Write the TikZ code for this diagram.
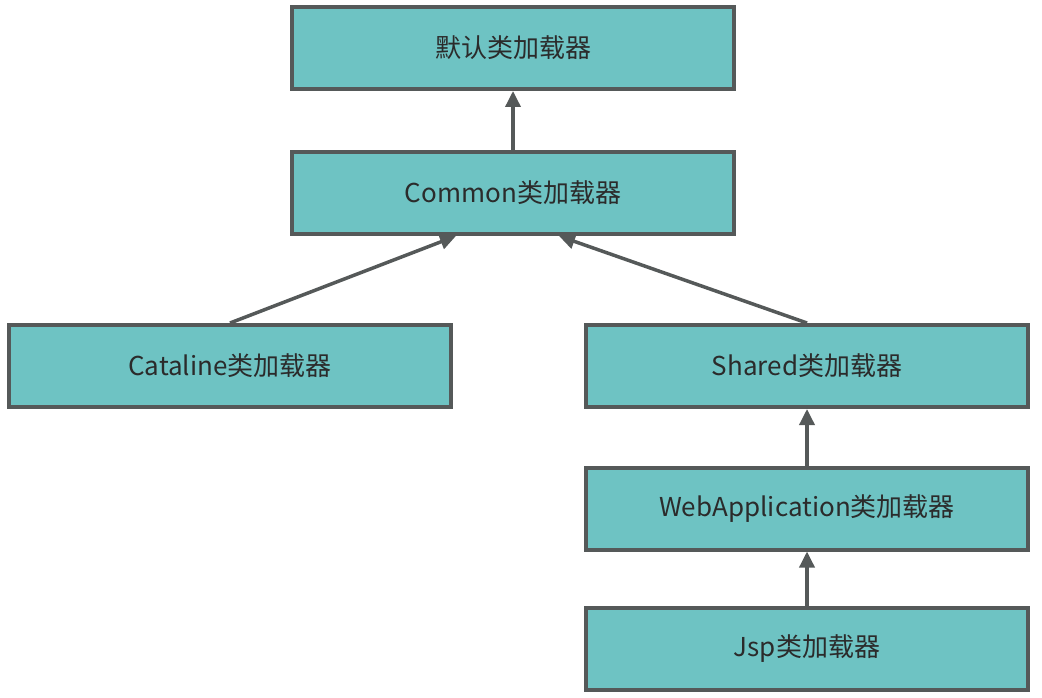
\documentclass[tikz,border=0pt]{standalone}
\usepackage{fontspec}
\setmainfont{Noto Sans CJK SC}
\usetikzlibrary{arrows.meta,calc}
\definecolor{boxfill}{HTML}{6EC3C3}
\definecolor{boxline}{HTML}{555959}
\definecolor{txt}{HTML}{2B2B2B}
\begin{document}
\begin{tikzpicture}[x=1pt,y=-1pt,
  loader/.style={draw=boxline,fill=boxfill,line width=4pt,minimum width=442pt,minimum height=82pt,inner sep=0pt,text=txt,font=\fontsize{26}{30}\selectfont},
  link/.style={draw=boxline,line width=3.5pt,-{Triangle[length=16pt,width=15pt]}}]
\useasboundingbox (0,0) rectangle (1042,698);
\node[loader] (def) at (513,48) {默认类加载器};
\node[loader] (common) at (513,193) {Common类加载器};
\node[loader] (cat) at (230,366) {Cataline类加载器};
\node[loader] (shared) at (807,366) {Shared类加载器};
\node[loader] (web) at (807,508.5) {WebApplication类加载器};
\node[loader] (jsp) at (807,649) {Jsp类加载器};
\coordinate (cl) at ($(common.south)+(-57,0)$);
\coordinate (cr) at ($(common.south)+(46,0)$);
\draw[link] (common.north) -- (def.south);
\draw[link] (cat.north) -- (cl);
\draw[link] (shared.north) -- (cr);
\draw[link] (web.north) -- (shared.south);
\draw[link] (jsp.north) -- (web.south);
\end{tikzpicture}
\end{document}
